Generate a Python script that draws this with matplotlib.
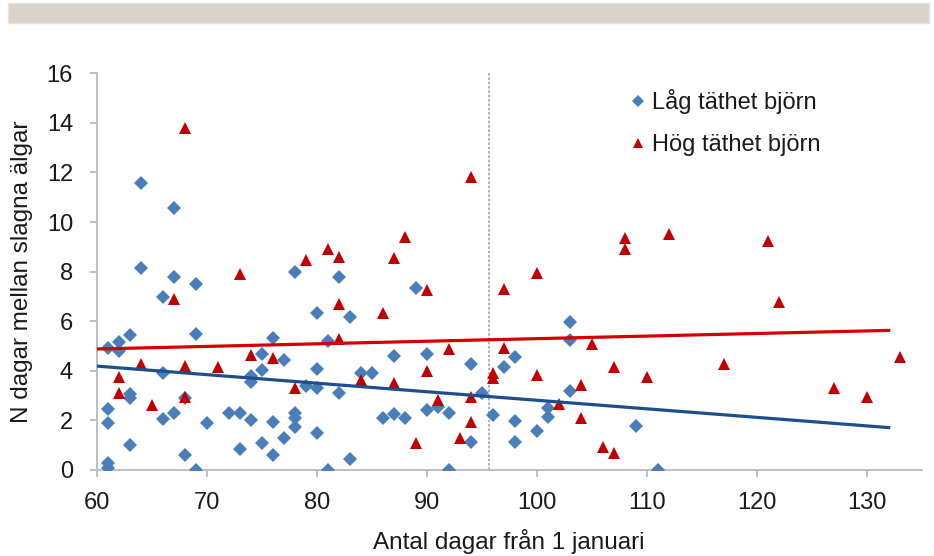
import matplotlib
matplotlib.use("Agg")
import matplotlib.pyplot as plt
from matplotlib.patches import Rectangle

plt.rcParams['font.family'] = ['Liberation Sans', 'DejaVu Sans']

# Låg täthet björn (blue diamonds)
low_x = [61, 61, 61, 61, 61, 62, 62, 63, 63, 63, 63, 64, 64, 66, 66, 66, 67, 67, 67,
         68, 68, 69, 69, 69, 70, 72, 73, 73, 74, 74, 74, 75, 75, 75, 76, 76, 76, 77, 77,
         78, 78, 78, 78, 79, 80, 80, 80, 80, 81, 81, 82, 82, 83, 83, 84, 85, 86, 87, 87,
         88, 89, 90, 90, 91, 92, 92, 94, 94, 95, 96, 97, 98, 98, 98, 100, 101, 101,
         103, 103, 103, 109, 111]
low_y = [4.93, 2.45, 1.91, 0.30, 0.07, 5.17, 4.80, 5.44, 3.08, 2.90, 1.01, 11.56, 8.13,
         6.96, 3.93, 2.04, 10.55, 7.80, 2.31, 2.89, 0.60, 7.50, 5.48, 0.00, 1.91, 2.31,
         2.29, 0.83, 3.79, 3.56, 2.02, 4.66, 4.03, 1.10, 5.31, 1.95, 0.60, 4.43, 1.28,
         8.00, 2.29, 2.08, 1.75, 3.39, 6.34, 4.06, 3.29, 1.48, 5.20, 0.00, 7.80, 3.09,
         6.16, 0.43, 3.92, 3.90, 2.08, 4.60, 2.26, 2.08, 7.33, 4.68, 2.42, 2.53, 2.29,
         0.00, 4.27, 1.14, 3.09, 2.22, 4.17, 4.57, 1.98, 1.14, 1.58, 2.49, 2.15, 5.96,
         5.24, 3.19, 1.77, 0.00]

# Hög täthet björn (red triangles)
high_x = [62, 62, 64, 65, 67, 68, 68, 68, 71, 73, 74, 76, 78, 79, 81, 82, 82, 82, 84,
          86, 87, 87, 88, 89, 90, 90, 91, 92, 93, 94, 94, 94, 96, 96, 97, 97, 100, 100,
          102, 104, 104, 105, 106, 107, 107, 108, 108, 110, 112, 117, 121, 122, 127,
          130, 133]
high_y = [3.74, 3.12, 4.26, 2.62, 6.90, 13.80, 4.19, 2.96, 4.14, 7.90, 4.64, 4.50, 3.29,
          8.45, 8.90, 8.58, 6.68, 5.27, 3.63, 6.34, 8.53, 3.50, 9.41, 1.08, 7.26, 3.99,
          2.82, 4.87, 1.28, 11.83, 2.96, 1.95, 3.90, 3.70, 7.29, 4.90, 7.93, 3.83, 2.66,
          3.43, 2.08, 5.08, 0.94, 4.14, 0.67, 9.34, 8.90, 3.74, 9.52, 4.26, 9.23, 6.79,
          3.32, 2.96, 4.54]

# trend lines, read at the ends
trend_x = [60, 132]
low_trend = [4.19, 1.71]
high_trend = [4.88, 5.63]

split_day = 95.7

fig = plt.figure(figsize=(9.34, 5.56), dpi=100)
ax = fig.add_axes([0.1035, 0.1547, 0.8833, 0.7135])

# grey band at the top
fig.patches.append(Rectangle((8 / 934, 1 - 23 / 556), 921 / 934, 20 / 556,
                             transform=fig.transFigure, facecolor='#dad3cc',
                             edgecolor='#e8e3de', linewidth=1, zorder=0))

ax.plot(low_x, low_y, linestyle='none', marker='D', markersize=6.8,
        color='#4a7ebb', markeredgewidth=0, label='Låg täthet björn', zorder=3)
ax.plot(high_x, high_y, linestyle='none', marker='^', markersize=8.8,
        color='#c00000', markeredgewidth=0, label='Hög täthet björn', zorder=4)

ax.plot(trend_x, low_trend, color='#1f4e8c', linewidth=2.3, zorder=5)
ax.plot(trend_x, high_trend, color='#d40000', linewidth=2.3, zorder=5)

ax.axvline(split_day, color='#a6a6a6', linestyle=(0, (1.6, 1.0)), linewidth=1.2, zorder=2)

ax.set_xlim(60, 135)
ax.set_ylim(0, 16)
ax.set_xticks(range(60, 131, 10))
ax.set_yticks(range(0, 17, 2))

for side in ['top', 'right']:
    ax.spines[side].set_visible(False)
for side in ['left', 'bottom']:
    ax.spines[side].set_color('#bfbfbf')
    ax.spines[side].set_linewidth(1.4)

ax.tick_params(axis='both', colors='#bfbfbf', labelcolor='#1a1a1a', labelsize=17,
               length=5, width=1.4, direction='out')
ax.tick_params(axis='y', pad=12)
ax.tick_params(axis='x', pad=11)

ax.set_xlabel('Antal dagar från 1 januari', fontsize=17.5, color='#1a1a1a')
ax.set_ylabel('N dagar mellan slagna älgar', fontsize=17.5, color='#1a1a1a')
ax.xaxis.label.set_va('center')
ax.yaxis.label.set_va('center')
ax.xaxis.set_label_coords(0.5, -0.1815)
ax.yaxis.set_label_coords(-0.0905, 0.5)

leg = ax.legend(loc='upper left', bbox_to_anchor=(630.7 / 934, 1 - 89 / 556),
                bbox_transform=fig.transFigure, frameon=False, fontsize=17,
                handlelength=0.6, handletextpad=0.3, labelspacing=0.85,
                borderpad=0, borderaxespad=0, numpoints=1, markerscale=0.85)
for t in leg.get_texts():
    t.set_color('#1a1a1a')

fig.savefig('out.png', dpi=100)
